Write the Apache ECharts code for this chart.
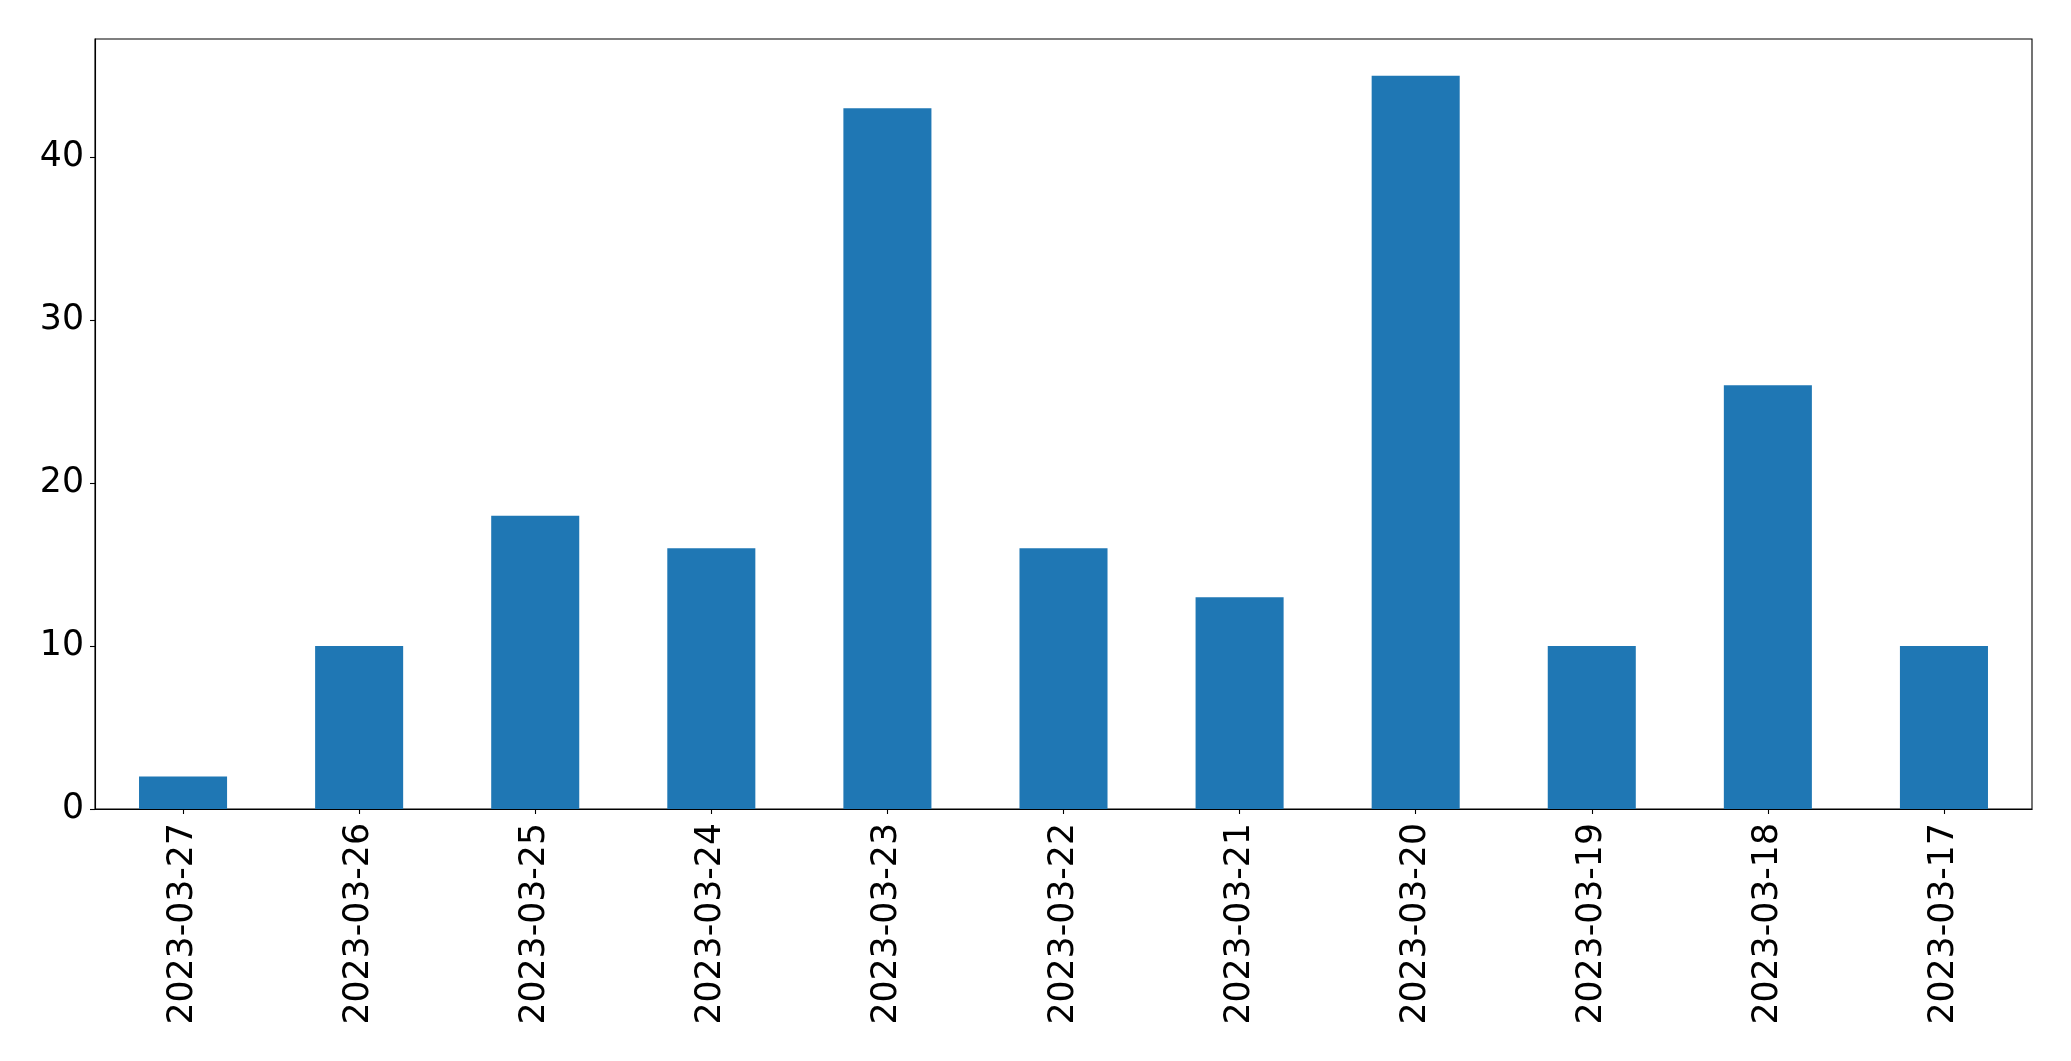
<!DOCTYPE html>
<html>
<head>
<meta charset="utf-8">
<script src="https://cdn.jsdelivr.net/npm/echarts@6/dist/echarts.min.js"></script>
<style>
html,body{margin:0;padding:0;background:#fff;}
#chart{width:2071px;height:1061px;}
</style>
</head>
<body>
<div id="chart"></div>
<script>
const categories = ['2023-03-27','2023-03-26','2023-03-25','2023-03-24','2023-03-23','2023-03-22','2023-03-21','2023-03-20','2023-03-19','2023-03-18','2023-03-17'];
const values = [2, 10, 18, 16, 43, 16, 13, 45, 10, 26, 10];
const yTicks = [0, 10, 20, 30, 40];

const chart = echarts.init(document.getElementById('chart'), null, {renderer: 'canvas'});
const font = 'DejaVu Sans';
chart.setOption({
  animation: false,
  backgroundColor: '#ffffff',
  grid: {
    left: 95, right: 39, top: 39, bottom: 252,
    show: true, borderColor: '#000', borderWidth: 1.1, backgroundColor: 'transparent'
  },
  xAxis: {
    type: 'category',
    data: categories,
    boundaryGap: true,
    axisLine: {show: true, lineStyle: {color: '#000', width: 1.1}},
    axisTick: {show: true, alignWithLabel: true, length: 5, lineStyle: {color: '#000', width: 1.1}},
    axisLabel: {rotate: 90, margin: 14, fontFamily: font, fontSize: 34.7, color: '#000', interval: 0},
    splitLine: {show: false}
  },
  yAxis: {
    type: 'value',
    min: 0,
    max: 47.25,
    interval: 10,
    axisLine: {show: true, lineStyle: {color: '#000', width: 1.1}},
    axisTick: {show: true, length: 5, lineStyle: {color: '#000', width: 1.1}},
    axisLabel: {
      margin: 11, fontFamily: font, fontSize: 34.7, color: '#000',
      showMaxLabel: false,
      formatter: function (v) { return yTicks.indexOf(v) >= 0 ? String(v) : ''; }
    },
    splitLine: {show: false}
  },
  series: [{
    type: 'bar',
    data: values,
    barWidth: '50%',
    itemStyle: {color: '#1f77b4'}
  }]
});
</script>
</body>
</html>
